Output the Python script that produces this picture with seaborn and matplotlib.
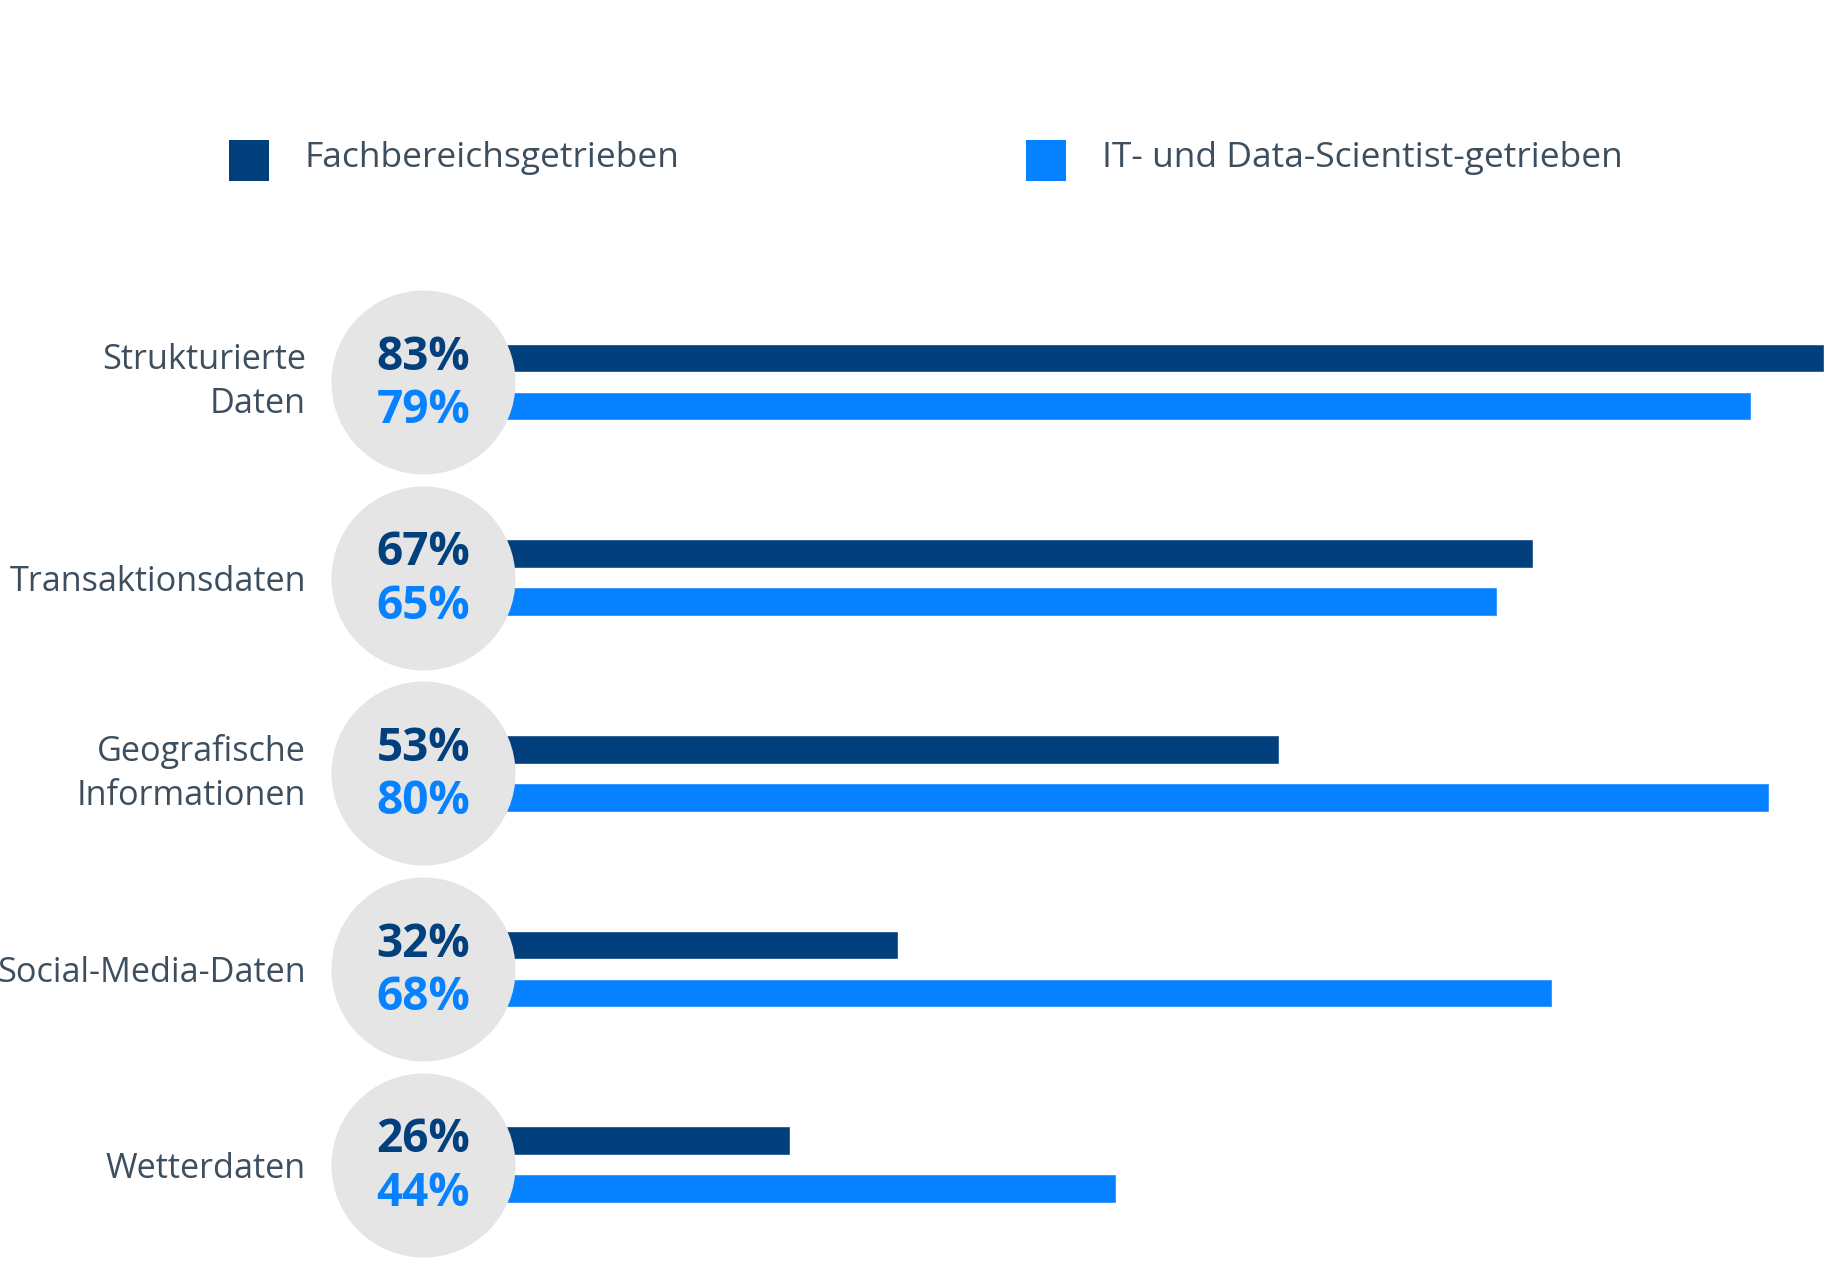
import pandas as pd
import seaborn as sns
import matplotlib.pyplot as plt
from matplotlib.patches import Rectangle

# Data
categories = ["Strukturierte\nDaten", "Transaktionsdaten", "Geografische\nInformationen",
              "Social-Media-Daten", "Wetterdaten"]
groups = ["Fachbereichsgetrieben", "IT- und Data-Scientist-getrieben"]
fach_values = [83, 67, 53, 32, 26]
it_values = [79, 65, 80, 68, 44]

# Colours
DARK = "#023F7D"
LIGHT = "#0681FF"
CIRCLE = "#E5E5E5"
TEXT = "#3D4F5F"


def build_frame():
    """Long-format frame for seaborn."""
    rows = []
    for cat, f, i in zip(categories, fach_values, it_values):
        rows.append({"category": cat, "group": groups[0], "value": f})
        rows.append({"category": cat, "group": groups[1], "value": i})
    return pd.DataFrame(rows)


def draw_chart(df):
    sns.set_style("white")
    plt.rcParams["font.family"] = ["Open Sans", "DejaVu Sans"]

    W, H = 1836, 1285
    fig = plt.figure(figsize=(W / 100, H / 100), dpi=100)
    # zero of the value scale sits at x=318px, 18.14 px per percent;
    # the axes itself starts inside the circles so bar stubs stay hidden
    x_zero, px_per = 318, 18.14
    ax_left = 410
    ax = fig.add_axes([ax_left / W, 0.0023, (W - ax_left) / W, 0.7918])

    sns.barplot(data=df, y="category", x="value", hue="group", orient="h",
                palette=[DARK, LIGHT], saturation=1, width=0.49, gap=0.4,
                legend=False, ax=ax, zorder=1)

    ax.set_xlim((ax_left - x_zero) / px_per, (W - x_zero) / px_per)
    ax.set_ylim(4.6, -0.6)

    # grey circles behind the value labels
    circle_x = 5.8
    ax.scatter([circle_x] * len(categories), range(len(categories)), s=17560,
               color=CIRCLE, zorder=3, clip_on=False, linewidths=0)

    # value labels inside the circles
    for container, color, dy in zip(ax.containers, [DARK, LIGHT], [0.7, -3.2]):
        for bar, val in zip(container, container.datavalues):
            yc = bar.get_y() + bar.get_height() / 2
            ax.annotate(f"{val:.0f}%", (circle_x, yc), xytext=(0, dy),
                        textcoords="offset points", ha="center", va="center",
                        fontsize=33, fontweight="bold", color=color, zorder=4,
                        annotation_clip=False)

    ax.set_xlabel("")
    ax.set_ylabel("")
    ax.set_xticks([])
    ax.tick_params(axis="y", length=0, pad=(ax_left - 306) * 0.72,
                   labelsize=24.7, labelcolor=TEXT)
    for lbl in ax.get_yticklabels():
        lbl.set_linespacing(1.39)
        if "\n" in lbl.get_text():
            lbl.set_va("center")
    sns.despine(ax=ax, left=True, bottom=True)

    # legend
    for (lx, tx), label, color in zip([(229, 305), (1026, 1102)], groups, [DARK, LIGHT]):
        fig.add_artist(Rectangle((lx / W, 1 - 181 / H), 40 / W, 41 / H,
                                 transform=fig.transFigure, color=color, lw=0))
        fig.text(tx / W, 1 - 158 / H, label, ha="left", va="center",
                 fontsize=25.5, color=TEXT)

    fig.savefig("out.png", dpi=100)


if __name__ == "__main__":
    draw_chart(build_frame())
